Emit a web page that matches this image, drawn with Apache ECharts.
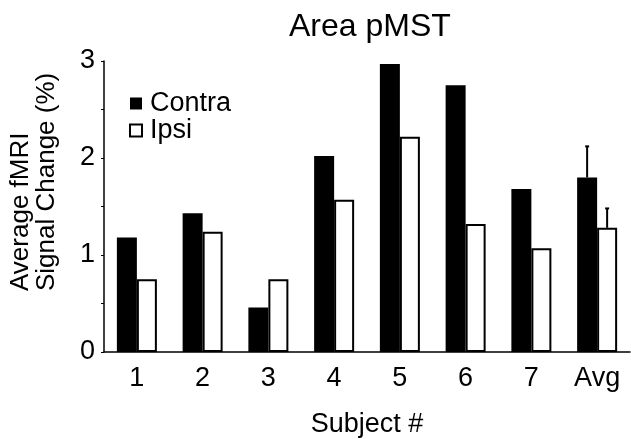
<!DOCTYPE html>
<html>
<head>
<meta charset="utf-8">
<script src="https://cdn.jsdelivr.net/npm/echarts@6/dist/echarts.min.js"></script>
<style>
  html, body { margin: 0; padding: 0; background: #fff; }
  #chart { width: 631px; height: 439px; }
</style>
</head>
<body>
<div id="chart"></div>
<script>
// values
var subjects = ['1', '2', '3', '4', '5', '6', '7', 'Avg'];
var contra = [1.18, 1.43, 0.46, 2.02, 2.97, 2.75, 1.68, 1.80];
var ipsi = [0.75, 1.24, 0.75, 1.57, 2.22, 1.32, 1.07, 1.28];
// error bar tops (only the average has them)
var contraErr = [null, null, null, null, null, null, null, 2.12];
var ipsiErr = [null, null, null, null, null, null, null, 1.48];

var FONT = '"Liberation Sans", Arial, Helvetica, sans-serif';
var BAR_W = 20;

function errorSeries(name, tops, means, side) {
  return {
    name: name + ' err',
    type: 'custom',
    z: 5,
    data: tops.map(function (t, i) { return t == null ? null : [i, means[i], t]; }).filter(function (d) { return d; }),
    renderItem: function (params, api) {
      var lo = api.coord([api.value(0), api.value(1)]);
      var hi = api.coord([api.value(0), api.value(2)]);
      var x = lo[0] + side * BAR_W / 2;
      return {
        type: 'group',
        children: [
          { type: 'line', shape: { x1: x, y1: lo[1], x2: x, y2: hi[1] }, style: { stroke: '#000', lineWidth: 2 } },
          { type: 'line', shape: { x1: x - 2, y1: hi[1], x2: x + 2, y2: hi[1] }, style: { stroke: '#000', lineWidth: 2 } }
        ]
      };
    }
  };
}

var chart = echarts.init(document.getElementById('chart'), null, { renderer: 'canvas' });
chart.setOption({
  animation: false,
  backgroundColor: '#fff',
  title: {
    text: 'Area pMST',
    left: 284,
    top: 6,
    textStyle: { fontFamily: FONT, fontSize: 32, fontWeight: 'normal', color: '#000' }
  },
  legend: {
    orient: 'vertical',
    left: 124,
    top: 85,
    itemWidth: 12,
    itemHeight: 12,
    itemGap: 0,
    icon: 'rect',
    data: ['Contra', 'Ipsi'],
    textStyle: { fontFamily: FONT, fontSize: 27, color: '#000', padding: [0, 0, 0, 3] }
  },
  grid: { left: 104, right: 1, top: 61, bottom: 87, containLabel: false, outerBoundsMode: 'none' },
  xAxis: {
    type: 'category',
    data: subjects,
    name: 'Subject #',
    nameLocation: 'middle',
    nameGap: 59,
    nameTextStyle: { fontFamily: FONT, fontSize: 27, color: '#000' },
    axisLine: { lineStyle: { color: '#000', width: 1.5 } },
    axisTick: { show: false },
    axisLabel: { fontFamily: FONT, fontSize: 27, color: '#000', margin: 13 }
  },
  yAxis: {
    type: 'value',
    min: 0,
    max: 3,
    interval: 1,
    axisLine: { show: true, lineStyle: { color: '#000', width: 1.5 } },
    axisTick: { show: true, length: 3, lineStyle: { color: '#000' } },
    minorTick: { show: true, splitNumber: 2, length: 3, lineStyle: { color: '#000' } },
    splitLine: { show: false },
    axisLabel: { fontFamily: FONT, fontSize: 27, color: '#000', margin: 9 }
  },
  graphic: [{
    type: 'text',
    x: 34,
    y: 291,
    rotation: Math.PI / 2,
    style: {
      text: 'Average fMRI\nSignal Change (%)',
      font: '26px ' + FONT,
      fill: '#000',
      lineHeight: 26,
      textAlign: 'left',
      textVerticalAlign: 'middle'
    }
  }],
  series: [
    {
      name: 'Contra',
      type: 'bar',
      data: contra,
      barWidth: BAR_W,
      barGap: '0%',
      itemStyle: { color: '#000' }
    },
    {
      name: 'Ipsi',
      type: 'bar',
      data: ipsi,
      barWidth: BAR_W,
      itemStyle: { color: '#fff', borderColor: '#000', borderWidth: 2 }
    },
    errorSeries('Contra', contraErr, contra, -1),
    errorSeries('Ipsi', ipsiErr, ipsi, 1)
  ]
});
</script>
</body>
</html>
